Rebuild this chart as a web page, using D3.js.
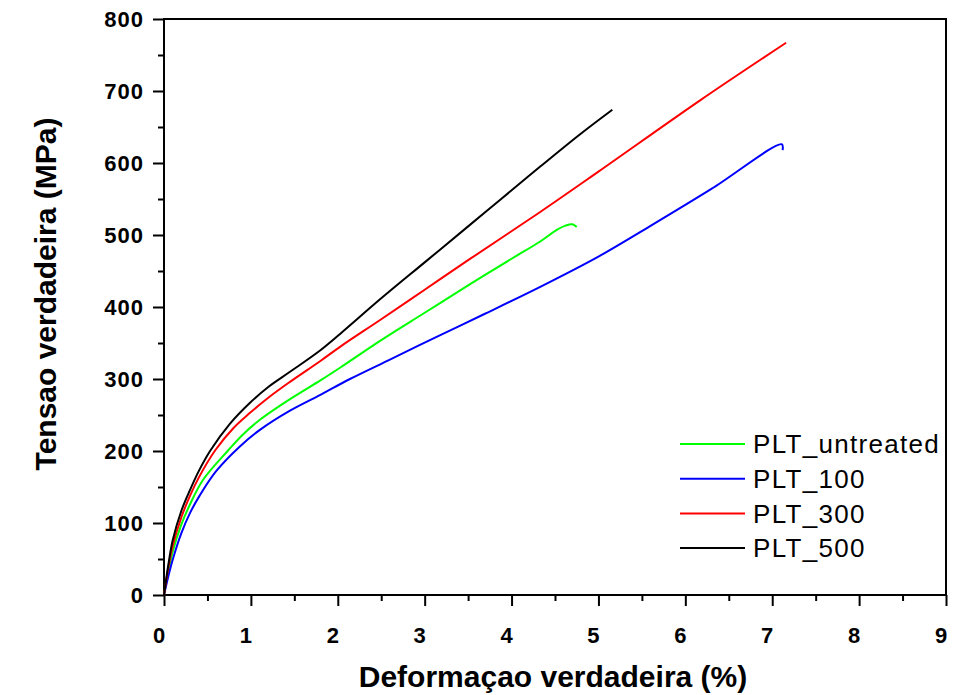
<!DOCTYPE html>
<html>
<head>
<meta charset="utf-8">
<script src="https://cdn.jsdelivr.net/npm/d3@7"></script>
<style>
  body { margin: 0; background: #fff; }
  text { font-family: Arial, 'Liberation Sans', sans-serif; }
</style>
</head>
<body>
<div id="graf"></div>
<script>
// series (x = deformation %, y = stress MPa)
const seriesNames = ['PLT_untreated', 'PLT_100', 'PLT_300', 'PLT_500']
const seriesColors = ['#00ff00', '#0000ff', '#ff0000', '#000000']

const untreatedX = [0, 0.05, 0.1, 0.2, 0.3, 0.45, 0.74, 0.9, 1.1, 1.45, 1.8, 2.03, 2.5, 3.0, 3.5, 4.0, 4.33, 4.52, 4.62, 4.7, 4.75]
const untreatedY = [0, 33, 60, 98, 126, 160, 201, 222, 243, 272, 298, 316, 354, 392, 430, 467, 491, 507, 513, 515, 511]

const plt100X = [0, 0.05, 0.1, 0.2, 0.3, 0.41, 0.6, 0.87, 1.1, 1.45, 1.8, 2.14, 2.6, 3.18, 3.7, 4.33, 5.0, 5.59, 6.3, 7.11, 7.12]
const plt100Y = [0, 26, 49, 86, 114, 138, 172, 206, 229, 256, 278, 300, 327, 361, 391, 428, 470, 512, 564, 626, 618]

const plt300X = [0, 0.05, 0.1, 0.2, 0.3, 0.4, 0.59, 0.8, 0.99, 1.2, 1.45, 1.8, 2.03, 2.5, 3.0, 3.5, 4.33, 5.0, 6.17, 7.16]
const plt300Y = [0, 38, 68, 108, 138, 163, 201, 232, 253, 274, 296, 325, 345, 383, 424, 465, 532, 588, 687, 767]

const plt500X = [0, 0.05, 0.1, 0.2, 0.3, 0.4, 0.53, 0.76, 0.99, 1.2, 1.45, 1.8, 2.03, 2.5, 3.0, 3.5, 3.87, 4.33, 4.8, 5.16]
const plt500Y = [0, 42, 76, 117, 146, 172, 200, 238, 267, 289, 310, 340, 363, 412, 462, 512, 549, 595, 641, 674]

const xTicks = [0, 1, 2, 3, 4, 5, 6, 7, 8, 9]
const yTicks = [0, 100, 200, 300, 400, 500, 600, 700, 800]

const seriesData = [
  d3.zip(untreatedX, untreatedY),
  d3.zip(plt100X, plt100Y),
  d3.zip(plt300X, plt300Y),
  d3.zip(plt500X, plt500Y),
]

const anchoTotal = 955
const altoTotal = 695
const margin = { top: 19, right: 9, bottom: 100, left: 164 }
const ancho = anchoTotal - margin.left - margin.right
const alto = altoTotal - margin.top - margin.bottom

const svg = d3.select('#graf')
  .append('svg')
  .attr('width', anchoTotal)
  .attr('height', altoTotal)

const g = svg.append('g')
  .attr('transform', `translate(${margin.left}, ${margin.top})`)

const x = d3.scaleLinear().domain([0, 9]).range([0, ancho])
const y = d3.scaleLinear().domain([0, 800]).range([alto, 0])

// minor ticks
g.append('g')
  .attr('transform', `translate(0, ${alto})`)
  .call(d3.axisBottom(x).tickValues(d3.range(0.5, 9, 1)).tickSize(6).tickFormat(''))
g.append('g')
  .call(d3.axisLeft(y).tickValues(d3.range(50, 800, 100)).tickSize(6).tickFormat(''))

// major ticks
const xAxis = g.append('g')
  .attr('transform', `translate(0, ${alto})`)
  .call(d3.axisBottom(x).tickValues(xTicks).tickSize(11).tickFormat(d3.format('d')))
xAxis.selectAll('text').attr('y', 48).attr('x', -5).attr('dy', 0)

const yAxis = g.append('g')
  .call(d3.axisLeft(y).tickValues(yTicks).tickSize(11).tickFormat(d3.format('d')))
yAxis.selectAll('text').attr('x', -20).attr('dy', '0.36em')

g.selectAll('.domain').remove()
g.selectAll('.tick line').attr('stroke', '#000').attr('stroke-width', 2)
g.selectAll('.tick text')
  .attr('fill', '#000')
  .style('font-size', '22px')
  .style('font-weight', 'bold')
  .style('letter-spacing', '1px')

// frame
g.append('rect')
  .attr('width', ancho)
  .attr('height', alto)
  .attr('fill', 'none')
  .attr('stroke', '#000')
  .attr('stroke-width', 2)

// curves
const generadorLinea = d3.line()
  .x((d) => x(d[0]))
  .y((d) => y(d[1]))
  .curve(d3.curveCatmullRom.alpha(0.5))

g.selectAll('.curva')
  .data(seriesData)
  .join('path')
  .attr('class', 'curva')
  .attr('fill', 'none')
  .attr('stroke', (d, i) => seriesColors[i])
  .attr('stroke-width', 2)
  .attr('d', generadorLinea)

// axis titles
svg.append('text')
  .attr('x', 553)
  .attr('y', 687)
  .attr('text-anchor', 'middle')
  .style('font-size', '30px')
  .style('font-weight', 'bold')
  .text('Deformaçao verdadeira (%)')

svg.append('text')
  .attr('transform', 'translate(56, 294) rotate(-90)')
  .attr('text-anchor', 'middle')
  .style('font-size', '30px')
  .style('font-weight', 'bold')
  .text('Tensao verdadeira (MPa)')

// legend
const legend = svg.append('g').attr('transform', 'translate(680, 444)')
const items = legend.selectAll('g')
  .data(seriesNames)
  .join('g')
  .attr('transform', (d, i) => `translate(0, ${i * 34.7})`)
items.append('line')
  .attr('x1', 0)
  .attr('x2', 65)
  .attr('stroke', (d, i) => seriesColors[i])
  .attr('stroke-width', 2)
items.append('text')
  .attr('x', 73)
  .attr('dy', '0.36em')
  .style('font-size', '26px')
  .style('letter-spacing', '1.3px')
  .text((d) => d)
</script>
</body>
</html>
